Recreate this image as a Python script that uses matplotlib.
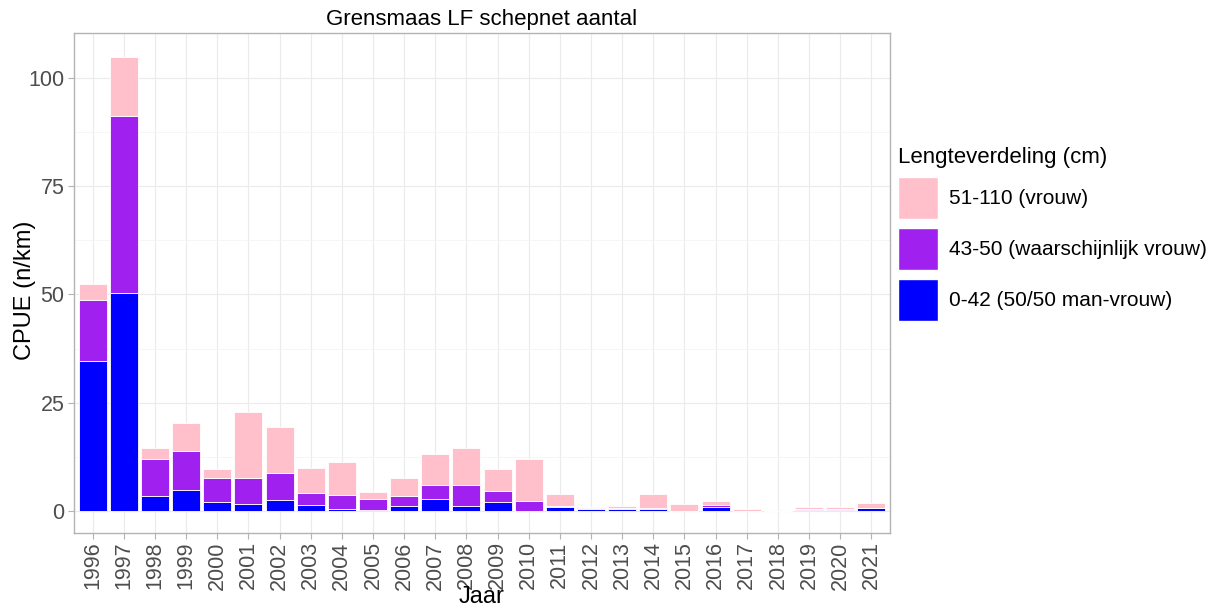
import numpy as np
import matplotlib
matplotlib.use("Agg")
import matplotlib.pyplot as plt
from matplotlib.patches import Patch

plt.rcParams['font.family'] = ['Liberation Sans', 'DejaVu Sans']

years = [str(y) for y in range(1996, 2022)]
# stacked CPUE per length class (n/km)
blue_0_42 = [34.6, 50.3, 3.5, 4.8, 2.0, 1.5, 2.5, 1.4, 0.5, 0.3, 1.2, 2.7, 1.2,
             2.0, 0.0, 1.0, 0.4, 0.35, 0.4, 0.0, 1.0, 0.0, 0.0, 0.3, 0.3, 0.6]
purple_43_50 = [14.1, 40.9, 8.5, 9.1, 5.5, 6.2, 6.3, 2.8, 3.2, 2.4, 2.2, 3.2, 4.7,
                2.6, 2.4, 0.2, 0.2, 0.35, 0.2, 0.0, 0.3, 0.0, 0.0, 0.2, 0.2, 0.1]
pink_51_110 = [3.7, 13.6, 2.6, 6.4, 2.1, 15.2, 10.5, 5.6, 7.6, 1.7, 4.1, 7.3, 8.6,
               5.0, 9.6, 2.6, 0.2, 0.5, 3.3, 1.6, 1.0, 0.4, 0.0, 0.5, 0.5, 1.1]

labels = ['51-110 (vrouw)', '43-50 (waarschijnlijk vrouw)', '0-42 (50/50 man-vrouw)']
colors = ['#FFC0CB', '#A020F0', '#0000FF']

W, H = 1222, 608
fig = plt.figure(figsize=(W / 100, H / 100), dpi=100)
ax = fig.add_axes([74 / W, 1 - 533 / H, 816 / W, 500 / H])

x = np.arange(len(years))
b1 = np.array(blue_0_42)
b2 = np.array(purple_43_50)
b3 = np.array(pink_51_110)
ax.bar(x, b1, width=0.9, color=colors[2], edgecolor='white', linewidth=0.6, zorder=3)
ax.bar(x, b2, bottom=b1, width=0.9, color=colors[1], edgecolor='white', linewidth=0.6, zorder=3)
ax.bar(x, b3, bottom=b1 + b2, width=0.9, color=colors[0], edgecolor='white', linewidth=0.6, zorder=3)

ax.set_xlim(-0.6, len(years) - 0.4)
ax.set_ylim(-5.1, 110.4)
ax.set_yticks([0, 25, 50, 75, 100])
ax.set_yticks([12.5, 37.5, 62.5, 87.5], minor=True)
ax.set_xticks(x)
ax.set_xticklabels(years, rotation=90, fontsize=15.5, color='#4d4d4d')
ax.tick_params(axis='y', labelsize=15.5, labelcolor='#4d4d4d', color='#b3b3b3', length=4, pad=3)
ax.tick_params(axis='y', which='minor', length=0)
ax.tick_params(axis='x', color='#b3b3b3', length=4, pad=2)
ax.grid(True, which='major', color='#ebebeb', linewidth=0.8, zorder=0)
ax.grid(True, which='minor', axis='y', color='#f3f3f3', linewidth=0.5, zorder=0)
for s in ax.spines.values():
    s.set_color('#b3b3b3')
    s.set_linewidth(1.0)

fig.text(482 / W, 1 - 597 / H, 'Jaar', fontsize=17, ha='center', va='center')
fig.text(25 / W, 1 - 290 / H, 'CPUE (n/km)', fontsize=17, ha='center', va='center',
         rotation=90)
fig.text(482 / W, 1 - 20 / H, 'Grensmaas LF schepnet aantal', fontsize=16,
         ha='center', va='center')

handles = [Patch(facecolor=c, edgecolor='white') for c in colors]
fig.legend(handles, labels, title='Lengteverdeling (cm)', loc='upper left',
           bbox_to_anchor=(898 / W, 1 - 147 / H), frameon=False, fontsize=15,
           title_fontsize=16, handlelength=1.92, handleheight=2.7,
           labelspacing=0.44, handletextpad=0.53, borderpad=0, borderaxespad=0,
           alignment='left')

fig.savefig('out.png', dpi=100)
